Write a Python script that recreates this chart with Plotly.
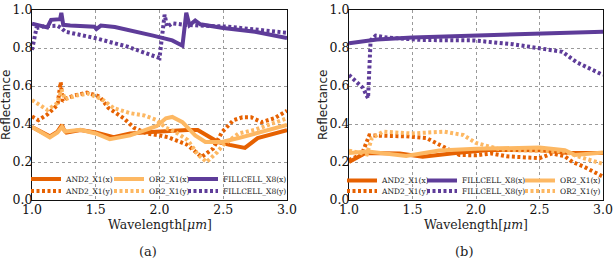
import plotly.graph_objects as go

# ---------------- data ----------------
x_ticks = [1.0, 1.5, 2.0, 2.5, 3.0]
x_tick_labels = ["1.0", "1.5", "2.0", "2.5", "3.0"]
y_ticks = [0.0, 0.2, 0.4, 0.6, 0.8, 1.0]
y_tick_labels = ["0.0", "0.2", "0.4", "0.6", "0.8", "1.0"]

# panel (a)
a_and2_x_wl = [1.0, 1.07, 1.14, 1.2, 1.235, 1.25, 1.27, 1.38, 1.5, 1.64, 1.77, 1.9, 2.0, 2.22, 2.3, 2.46, 2.55, 2.67, 2.77, 3.0]
a_and2_x = [0.384, 0.36, 0.335, 0.36, 0.395, 0.37, 0.355, 0.368, 0.355, 0.33, 0.35, 0.357, 0.362, 0.368, 0.368, 0.305, 0.29, 0.274, 0.326, 0.368]

a_and2_y_wl = [1.0, 1.05, 1.12, 1.2, 1.225, 1.24, 1.27, 1.33, 1.43, 1.53, 1.6, 1.72, 1.8, 1.9, 2.0, 2.07, 2.22, 2.33, 2.42, 2.49, 2.58, 2.65, 2.72, 2.8, 2.9, 3.0]
a_and2_y = [0.44, 0.42, 0.45, 0.5, 0.62, 0.52, 0.535, 0.55, 0.565, 0.545, 0.484, 0.43, 0.38, 0.35, 0.34, 0.33, 0.29, 0.226, 0.27, 0.357, 0.42, 0.435, 0.435, 0.41, 0.43, 0.47]

a_or2_x_wl = [1.0, 1.08, 1.14, 1.2, 1.235, 1.26, 1.38, 1.5, 1.61, 1.77, 1.9, 1.98, 2.05, 2.1, 2.18, 2.28, 2.36, 2.49, 2.62, 2.8, 3.0]
a_or2_x = [0.384, 0.35, 0.33, 0.355, 0.385, 0.36, 0.37, 0.35, 0.32, 0.34, 0.37, 0.39, 0.43, 0.437, 0.41, 0.34, 0.305, 0.305, 0.326, 0.36, 0.395]

a_or2_y_wl = [1.0, 1.06, 1.12, 1.2, 1.23, 1.26, 1.35, 1.44, 1.55, 1.64, 1.77, 1.88, 1.98, 2.05, 2.12, 2.22, 2.3, 2.37, 2.45, 2.5, 2.62, 2.75, 2.85, 3.0]
a_or2_y = [0.526, 0.5, 0.474, 0.51, 0.58, 0.53, 0.55, 0.56, 0.53, 0.484, 0.457, 0.445, 0.42, 0.38, 0.36, 0.316, 0.24, 0.2, 0.25, 0.29, 0.35, 0.37, 0.395, 0.43]

a_fill_x_wl = [1.0, 1.12, 1.15, 1.22, 1.23, 1.245, 1.3, 1.49, 1.505, 1.54, 1.65, 1.8, 1.95, 2.1, 2.18, 2.21, 2.235, 2.28, 2.32, 2.5, 2.75, 3.0]
a_fill_x = [0.928, 0.908, 0.948, 0.952, 0.985, 0.922, 0.918, 0.912, 0.9, 0.918, 0.91, 0.89, 0.865, 0.84, 0.812, 0.985, 0.92, 0.945, 0.925, 0.905, 0.885, 0.853]

a_fill_y_wl = [1.0, 1.01, 1.035, 1.1, 1.2, 1.23, 1.26, 1.49, 1.75, 2.0, 2.01, 2.04, 2.06, 2.1, 2.2, 2.54, 3.0]
a_fill_y = [0.79, 0.82, 0.905, 0.915, 0.917, 0.905, 0.886, 0.853, 0.807, 0.747, 0.8, 0.975, 0.912, 0.93, 0.922, 0.912, 0.88]

# panel (b)
b_and2_x_wl = [1.0, 1.13, 1.4, 1.58, 1.84, 2.1, 2.5, 2.73, 3.0]
b_and2_x = [0.2, 0.247, 0.245, 0.228, 0.247, 0.263, 0.262, 0.247, 0.247]

b_and2_y_wl = [1.0, 1.1, 1.16, 1.3, 1.45, 1.61, 1.71, 1.87, 2.0, 2.12, 2.24, 2.4, 2.5, 2.6, 2.7, 2.76, 2.85, 3.0]
b_and2_y = [0.21, 0.24, 0.34, 0.34, 0.335, 0.326, 0.29, 0.237, 0.235, 0.245, 0.23, 0.225, 0.22, 0.245, 0.23, 0.2, 0.175, 0.123]

b_fill_x_wl = [1.0, 1.22, 1.5, 2.0, 2.5, 3.0]
b_fill_x = [0.825, 0.845, 0.855, 0.865, 0.875, 0.886]

b_fill_y_wl = [1.0, 1.11, 1.15, 1.17, 1.21, 1.3, 1.58, 1.98, 2.29, 2.5, 2.68, 2.79, 3.0]
b_fill_y = [0.658, 0.59, 0.535, 0.84, 0.865, 0.855, 0.842, 0.84, 0.82, 0.8, 0.78, 0.726, 0.658]

b_or2_x_wl = [1.0, 1.15, 1.45, 1.71, 2.0, 2.5, 2.7, 2.78, 3.0]
b_or2_x = [0.247, 0.255, 0.232, 0.26, 0.27, 0.276, 0.262, 0.237, 0.25]

b_or2_y_wl = [1.0, 1.14, 1.18, 1.27, 1.49, 1.75, 1.9, 2.0, 2.2, 2.5, 2.7, 2.8, 3.0]
b_or2_y = [0.26, 0.24, 0.326, 0.36, 0.35, 0.36, 0.342, 0.3, 0.265, 0.262, 0.255, 0.23, 0.19]

# ---------------- styling ----------------
W, H = 616, 262
PURPLE = "#5e3c99"
DARK = "#e66101"
LIGHT = "#fdb863"
DOT = "3px,2.5px"
LW = 4
SERIF = "'DejaVu Serif', 'Liberation Serif', serif"
SANS = "'DejaVu Sans', sans-serif"

fig = go.Figure()
legend_layouts = {}
legend_count = [0]


def px_x(p):
    return p / W


def px_y(p):
    return 1 - p / H


def add(panel, name, wl, val, color, dotted, leg_left, leg_center):
    legend_count[0] += 1
    lid = "legend" if legend_count[0] == 1 else "legend%d" % legend_count[0]
    fig.add_trace(go.Scatter(
        x=wl, y=val, mode="lines", name=name,
        xaxis="x" if panel == 1 else "x2", yaxis="y" if panel == 1 else "y2",
        line=dict(color=color, width=LW, dash=DOT if dotted else "solid"),
        legend=lid, showlegend=True, hoverinfo="skip"))
    legend_layouts[lid] = dict(
        x=px_x(leg_left), y=px_y(leg_center), xanchor="left", yanchor="middle",
        xref="paper", yref="paper", bgcolor="rgba(0,0,0,0)", borderwidth=0,
        font=dict(family=SERIF, size=7.5, color="#222"))


ROW1_A, ROW2_A = 179, 191
ROW1_B, ROW2_B = 180.5, 191
add(1, "AND2_X1(x)", a_and2_x_wl, a_and2_x, DARK, False, 26, ROW1_A)
add(1, "AND2_X1(y)", a_and2_y_wl, a_and2_y, DARK, True, 26, ROW2_A)
add(1, "OR2_X1(x)", a_or2_x_wl, a_or2_x, LIGHT, False, 109, ROW1_A)
add(1, "OR2_X1(y)", a_or2_y_wl, a_or2_y, LIGHT, True, 109, ROW2_A)
add(1, "FILLCELL_X8(x)", a_fill_x_wl, a_fill_x, PURPLE, False, 183, ROW1_A)
add(1, "FILLCELL_X8(y)", a_fill_y_wl, a_fill_y, PURPLE, True, 183, ROW2_A)

add(2, "AND2_X1(x)", b_and2_x_wl, b_and2_x, DARK, False, 342, ROW1_B)
add(2, "AND2_X1(y)", b_and2_y_wl, b_and2_y, DARK, True, 342, ROW2_B)
add(2, "FILLCELL_X8(x)", b_fill_x_wl, b_fill_x, PURPLE, False, 422, ROW1_B)
add(2, "FILLCELL_X8(y)", b_fill_y_wl, b_fill_y, PURPLE, True, 422, ROW2_B)
add(2, "OR2_X1(x)", b_or2_x_wl, b_or2_x, LIGHT, False, 520, ROW1_B)
add(2, "OR2_X1(y)", b_or2_y_wl, b_or2_y, LIGHT, True, 520, ROW2_B)

PLOT_TOP, PLOT_BOTTOM = 10, 200
A_LEFT, A_RIGHT = 32, 287
B_LEFT, B_RIGHT = 349, 603

common_x = dict(range=[1, 3], tickvals=x_ticks, ticktext=x_tick_labels,
                showline=True, mirror=True, linecolor="#111", linewidth=1,
                showgrid=True, griddash="dot", gridcolor="#9a9a9a", gridwidth=0.7,
                zeroline=False, ticks="", ticklabelstandoff=-2,
                tickfont=dict(family=SERIF, size=12.5, color="#111"))
common_y = dict(range=[0, 1], tickvals=y_ticks, ticktext=y_tick_labels,
                domain=[px_y(PLOT_BOTTOM), px_y(PLOT_TOP)],
                showline=True, mirror=True, linecolor="#111", linewidth=1,
                showgrid=True, griddash="dot", gridcolor="#9a9a9a", gridwidth=0.7,
                zeroline=False, ticks="", ticklabelstandoff=-4,
                tickfont=dict(family=SERIF, size=12.5, color="#111"))

annotations = []
for left, right, tag in [(A_LEFT, A_RIGHT, "(a)"), (B_LEFT, B_RIGHT, "(b)")]:
    annotations.append(dict(text="Wavelength[<i>μm</i>]", x=px_x((left + right) / 2), y=px_y(224),
                            xref="paper", yref="paper", showarrow=False, xanchor="center", yanchor="middle",
                            font=dict(family=SERIF, size=12.5, color="#222")))
    annotations.append(dict(text="Reflectance", x=px_x(left - 26), y=px_y((PLOT_TOP + PLOT_BOTTOM) / 2),
                            xref="paper", yref="paper", showarrow=False, xanchor="center", yanchor="middle",
                            textangle=-90, font=dict(family=SANS, size=12, color="#222")))
    annotations.append(dict(text=tag, x=px_x((left + right) / 2 - 12), y=px_y(251),
                            xref="paper", yref="paper", showarrow=False, xanchor="center", yanchor="middle",
                            font=dict(family=SERIF, size=13, color="#222")))

fig.update_layout(
    width=W, height=H, margin=dict(l=0, r=0, t=0, b=0, autoexpand=False),
    paper_bgcolor="white", plot_bgcolor="white",
    xaxis=dict(domain=[px_x(A_LEFT), px_x(A_RIGHT)], anchor="y", **common_x),
    yaxis=dict(anchor="x", **common_y),
    xaxis2=dict(domain=[px_x(B_LEFT), px_x(B_RIGHT)], anchor="y2", **common_x),
    yaxis2=dict(anchor="x2", **common_y),
    annotations=annotations,
    **legend_layouts,
)

fig.write_html("out.html")
